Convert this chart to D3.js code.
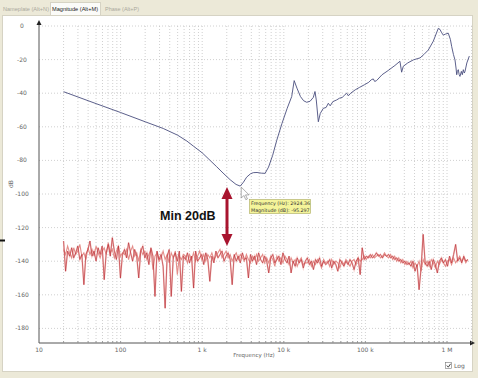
<!DOCTYPE html>
<html lang="en">
<head>
<meta charset="utf-8">
<title>Magnitude</title>
<script src="https://d3js.org/d3.v7.min.js"></script>
<style type="text/css">
  body { margin: 0; background: #ece9d8; }
  svg { display: block; font-family: "DejaVu Sans", Tahoma, sans-serif; }
</style>
</head>
<body>
<script type="text/javascript">
// measured magnitude (blue) : frequency in Hz, magnitude in dB
var magFreq = [20, 50, 100, 200, 333, 500, 650, 780, 1000, 1250, 1500, 1800, 2200, 2600, 2924,
  3200, 3500, 3900, 4230, 4700, 5300, 5900, 6500, 7300, 8200, 9500, 11000, 12500, 13400, 14500,
  16000, 17500, 19100, 21000, 23000, 24100, 25000, 26500, 28000, 30500, 33000, 35100, 37000, 40000,
  44500, 48000, 52000, 56000, 59000, 62000, 66000, 75000, 85000, 97000, 110000, 118000, 125000,
  130000, 137000, 160000, 190000, 230000, 265000, 278000, 291000, 330000, 386000, 430000, 467000,
  520000, 590000, 680000, 782000, 820000, 860000, 901000, 960000, 1037000, 1100000, 1142000,
  1200000, 1253000, 1290000, 1315000, 1340000, 1376000, 1410000, 1442000, 1500000, 1540000,
  1585000, 1630000, 1663000, 1750000, 1877000];
var magDb = [-39.1, -46.2, -51.5, -57, -61, -65, -68.5, -71.5, -75.5, -80, -83.7, -87.5, -91.5, -94.3, -95.3,
  -93, -90, -88, -87.3, -87.2, -87.6, -87.7, -84, -77, -68, -58, -49, -42, -32.5, -37,
  -42, -44.5, -45.4, -44.8, -42.5, -39, -44, -57, -52, -49, -48.5, -46, -47.5, -45,
  -44, -43, -42.5, -41, -40, -41.5, -40, -38, -36.5, -35, -33.5, -32, -31.5,
  -33, -32.5, -29, -26.5, -23.5, -21, -27.5, -24, -22, -20.2, -19.5, -19,
  -17, -14.3, -9, -1.4, -2, -4, -5.4, -4.8, -4.3, -8, -12.3,
  -17, -20.2, -25, -29, -27, -26, -29, -30, -27, -29,
  -26, -28, -27, -22, -17.9];

// noise floor, two sweeps, log-spaced from 20 Hz to 1.8 MHz
var noiseStart = 20, noiseEnd = 1.8e6;
var noiseDark = [
  -128, -146, -134, -137, -132, -138, -135, -131, -139, -136,
  -154, -136, -133, -128, -137, -134, -140, -132, -136, -131,
  -151, -135, -130, -137, -126, -134, -139, -131, -150, -136,
  -133, -138, -129, -135, -140, -133, -137, -150, -134, -131,
  -138, -135, -142, -132, -137, -161, -134, -139, -136, -143,
  -168, -137, -133, -161, -138, -135, -140, -134, -158, -137,
  -139, -135, -141, -137, -156, -134, -140, -138, -136, -142,
  -135, -139, -152, -137, -141, -134, -138, -136, -134, -140,
  -137, -135, -139, -154, -136, -140, -137, -141, -135, -139,
  -138, -150, -136, -140, -137, -142, -135, -139, -141, -137,
  -140, -147, -138, -136, -141, -139, -137, -142, -135, -139,
  -141, -137, -147, -140, -143, -138, -141, -139, -144, -140,
  -138, -142, -140, -145, -139, -141, -138, -143, -140, -142,
  -141, -139, -144, -140, -142, -146, -139, -141, -143, -140,
  -142, -139, -141, -145, -140, -138, -148, -132, -139, -137,
  -138, -136, -138, -137, -135, -137, -136, -138, -136, -137,
  -136, -138, -137, -139, -138, -140, -139, -141, -140, -142,
  -141, -143, -140, -146, -142, -157, -144, -124, -141, -143,
  -140, -145, -139, -142, -147, -140, -138, -141, -139, -143,
  -137, -141, -136, -130, -140, -138, -141, -137, -140, -139];
var noiseLight = [
  -133, -136, -131, -135, -138, -132, -136, -134, -130, -137,
  -135, -139, -132, -136, -133, -137, -131, -135, -138, -134,
  -132, -136, -129, -135, -133, -138, -134, -131, -137, -135,
  -136, -133, -139, -134, -131, -137, -135, -140, -133, -136,
  -134, -139, -136, -133, -145, -137, -135, -140, -138, -134,
  -139, -136, -141, -135, -138, -134, -148, -137, -139, -136,
  -137, -141, -136, -139, -135, -140, -137, -134, -139, -136,
  -140, -136, -138, -135, -139, -137, -135, -133, -138, -136,
  -134, -138, -136, -140, -137, -135, -139, -136, -138, -140,
  -136, -139, -141, -137, -139, -136, -140, -138, -136, -141,
  -138, -141, -137, -139, -143, -137, -140, -138, -141, -137,
  -139, -142, -138, -141, -139, -143, -140, -138, -142, -141,
  -141, -139, -143, -140, -142, -139, -141, -144, -139, -141,
  -140, -143, -139, -142, -140, -141, -144, -140, -142, -139,
  -141, -143, -140, -139, -142, -138, -140, -139, -137, -139,
  -137, -138, -136, -138, -137, -136, -138, -137, -135, -137,
  -138, -136, -139, -137, -140, -138, -141, -139, -142, -140,
  -142, -140, -144, -141, -143, -140, -146, -139, -142, -140,
  -143, -139, -141, -144, -140, -142, -139, -141, -143, -140,
  -139, -142, -138, -141, -139, -137, -140, -138, -141, -139];

var yTicks = [0, -20, -40, -60, -80, -100, -120, -140, -160, -180];
var xTicks = [10, 100, 1e3, 1e4, 1e5, 1e6];
var xTickLabels = ["10", "100", "1 k", "10 k", "100 k", "1 M"];
var tabs = ["Nameplate (Alt+N)", "Magnitude (Alt+M)", "Phase (Alt+P)"];
var cursorFreq = 2924.36, cursorDb = -95.297;

var W = 478, H = 378;
var svg = d3.select("body").append("svg").attr("width", W).attr("height", H);

// window + panel
svg.append("rect").attr("width", W).attr("height", H).attr("fill", "#ece9d8");
svg.append("rect").attr("x", 2.5).attr("y", 15.5).attr("width", 470).attr("height", 356)
  .attr("fill", "#ffffff").attr("stroke", "#d6d3c4");

// tabs
var tabX = [3, 52, 105], tabW = [46, 46, 34];
svg.append("rect").attr("x", 50.5).attr("y", 2.5).attr("width", 50).attr("height", 13)
  .attr("fill", "#fbfbf8").attr("stroke", "#d6d3c4");
svg.selectAll(".tab").data(tabs).enter().append("text")
  .attr("x", function (d, i) { return tabX[i]; })
  .attr("y", 11)
  .attr("font-family", "Liberation Sans, Arial, sans-serif")
  .attr("font-size", 6)
  .attr("textLength", function (d, i) { return tabW[i]; })
  .attr("lengthAdjust", "spacingAndGlyphs")
  .attr("fill", function (d, i) { return i == 1 ? "#222" : "#aaa89c"; })
  .text(function (d) { return d; });

var x = d3.scaleLog().domain([10, 1e6]).range([39, 447]);
var y = d3.scaleLinear().domain([0, -180]).range([26, 328.4]);
var xMax = 2e6, axisY = 343;

// grid
var minor = [];
for (var e = 10; e < xMax; e *= 10) {
  for (var k = 1; k <= 9; k++) { if (e * k > 10 && e * k <= xMax) minor.push(e * k); }
}
var grid = svg.append("g");
grid.selectAll(".vg").data(minor).enter().append("line")
  .attr("x1", function (d) { return x(d); }).attr("x2", function (d) { return x(d); })
  .attr("y1", y(0)).attr("y2", axisY)
  .attr("stroke", "#c4c4c4").attr("stroke-width", 0.8).attr("stroke-dasharray", "1,2");
grid.selectAll(".hg").data(yTicks).enter().append("line")
  .attr("x1", 39).attr("x2", x(xMax))
  .attr("y1", function (d) { return y(d); }).attr("y2", function (d) { return y(d); })
  .attr("stroke", "#c4c4c4").attr("stroke-width", 0.8).attr("stroke-dasharray", "1,2");

// axes
svg.append("line").attr("x1", 39).attr("x2", 39).attr("y1", 24).attr("y2", axisY)
  .attr("stroke", "#555").attr("stroke-width", 1);
svg.append("line").attr("x1", 39).attr("x2", 471).attr("y1", axisY).attr("y2", axisY)
  .attr("stroke", "#555").attr("stroke-width", 1);
svg.append("path").attr("d", "M39,20 L36.5,25 L41.5,25 Z").attr("fill", "#222");
svg.append("path").attr("d", "M475,343 L470,340.5 L470,345.5 Z").attr("fill", "#222");
svg.selectAll(".mt").data(minor).enter().append("line")
  .attr("x1", function (d) { return x(d); }).attr("x2", function (d) { return x(d); })
  .attr("y1", axisY - 2).attr("y2", axisY)
  .attr("stroke", "#888").attr("stroke-width", 0.7);

svg.selectAll(".yl").data(yTicks).enter().append("text")
  .attr("x", 22).attr("y", function (d) { return y(d) + 2; })
  .attr("text-anchor", "middle").attr("font-size", 6).attr("fill", "#666")
  .text(function (d) { return d; });
svg.selectAll(".xl").data(xTicks).enter().append("text")
  .attr("x", function (d) { return x(d); }).attr("y", 352)
  .attr("text-anchor", "middle").attr("font-size", 6).attr("fill", "#666")
  .text(function (d, i) { return xTickLabels[i]; });
svg.append("text").attr("x", 254).attr("y", 357).attr("text-anchor", "middle")
  .attr("font-size", 5.5).attr("fill", "#666").text("Frequency (Hz)");
svg.append("text").attr("transform", "translate(13,184) rotate(-90)")
  .attr("text-anchor", "middle").attr("font-size", 6).attr("fill", "#666").text("dB");

// noise floor
var lnStart = Math.log10(noiseStart), lnEnd = Math.log10(noiseEnd);
function sweep(arr) {
  return arr.map(function (d, i) {
    return [Math.pow(10, lnStart + (lnEnd - lnStart) * i / (arr.length - 1)), d];
  });
}
var line = d3.line().x(function (d) { return x(d[0]); }).y(function (d) { return y(d[1]); });
svg.append("path").datum(sweep(noiseDark)).attr("d", line).attr("fill", "none")
  .attr("stroke", "#f5c6c2").attr("stroke-width", 1.6);
svg.append("path").datum(sweep(noiseLight)).attr("d", line).attr("fill", "none")
  .attr("stroke", "#e48e8a").attr("stroke-width", 1.1);
svg.append("path").datum(sweep(noiseDark)).attr("d", line).attr("fill", "none")
  .attr("stroke", "#b3222b").attr("stroke-width", 0.6);

// magnitude
var mag = magFreq.map(function (f, i) { return [f, magDb[i]]; });
svg.append("path").datum(mag).attr("d", line).attr("fill", "none")
  .attr("stroke", "#4a4e7e").attr("stroke-width", 0.9);

// min 20 dB annotation
var ax = 227;
svg.append("line").attr("x1", ax).attr("x2", ax).attr("y1", 196).attr("y2", 237)
  .attr("stroke", "#a8142e").attr("stroke-width", 3);
svg.append("path").attr("d", "M" + ax + ",187 L" + (ax - 5.5) + ",199 L" + (ax + 5.5) + ",199 Z").attr("fill", "#a8142e");
svg.append("path").attr("d", "M" + ax + ",246 L" + (ax - 5.5) + ",234 L" + (ax + 5.5) + ",234 Z").attr("fill", "#a8142e");
svg.append("text").attr("x", 160).attr("y", 220).attr("font-family", "Liberation Sans, Arial, sans-serif")
  .attr("font-weight", "bold").attr("font-size", 12.5).attr("fill", "#111").text("Min  20dB");

// cursor tooltip
var cx = x(cursorFreq), cy = y(cursorDb);
svg.append("path")
  .attr("d", "M0,0 L0,11 L2.6,8.4 L4.6,12.6 L6.2,11.8 L4.3,7.8 L7.8,7.8 Z")
  .attr("transform", "translate(" + (cx + 1) + "," + (cy + 1) + ")")
  .attr("fill", "#fff").attr("stroke", "#777").attr("stroke-width", 0.6);
svg.append("rect").attr("x", 249.5).attr("y", 199.5).attr("width", 61).attr("height", 14)
  .attr("fill", "#f4f49a").attr("stroke", "#a8a860").attr("stroke-width", 0.6);
svg.append("text").attr("x", 251).attr("y", 205).attr("font-size", 4.8).attr("fill", "#333")
  .text("Frequency (Hz): " + cursorFreq);
svg.append("text").attr("x", 251).attr("y", 211.5).attr("font-size", 4.8).attr("fill", "#333")
  .text("Magnitude (dB): " + cursorDb);

// left tick mark on frame
svg.append("rect").attr("x", 0).attr("y", 239.5).attr("width", 5).attr("height", 2).attr("fill", "#111");

// log checkbox
svg.append("rect").attr("x", 445.5).attr("y", 362.5).attr("width", 6).attr("height", 6)
  .attr("fill", "#fff").attr("stroke", "#777").attr("stroke-width", 0.6);
svg.append("path").attr("d", "M446.8,365.5 L448.3,367.2 L450.6,363.8").attr("fill", "none")
  .attr("stroke", "#333").attr("stroke-width", 0.9);
svg.append("text").attr("x", 454).attr("y", 368).attr("font-size", 6).attr("fill", "#666").text("Log");
</script>
</body>
</html>
